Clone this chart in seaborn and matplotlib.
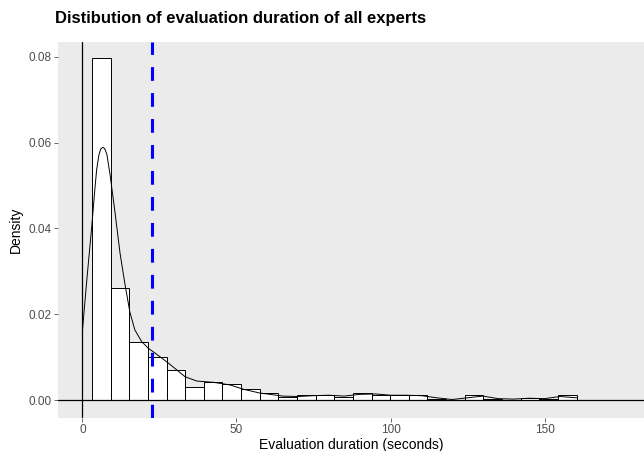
"""Histogram + density of expert evaluation durations (ggplot look)."""

import matplotlib
matplotlib.use("Agg")
import matplotlib.pyplot as plt
import numpy as np
import pandas as pd
import seaborn as sns

# bin layout: 26 bins of ~6.05 s starting at ~3.1 s
BIN_EDGES = np.linspace(3.1, 160.4, 27)
DENSITY = [0.0797, 0.0261, 0.0137, 0.0101, 0.0070, 0.0032, 0.0043, 0.0038,
           0.0027, 0.0017, 0.0009, 0.0013, 0.0013, 0.0007, 0.0017, 0.0012,
           0.0013, 0.0013, 0.0004, 0.0000, 0.0012, 0.0003, 0.0000, 0.0006,
           0.0003, 0.0012]

# density curve
KDE_X = [0.0, 1.4, 3.0, 4.0, 4.6, 5.3, 5.9, 6.6, 7.2, 7.9, 8.9, 10.6, 12.2,
         13.8, 15.4, 17.0, 19.2, 21.4, 23.0, 27.3, 30.6, 33.3, 37.1, 42.5,
         47.9, 52.2, 57.6, 60.9, 65, 70, 75, 80, 85, 90, 95, 100, 105, 110,
         115, 120, 125, 130, 135, 140, 145, 150, 155, 160.5]
KDE_Y = [0.0164, 0.0280, 0.0404, 0.0490, 0.0537, 0.0570, 0.0585, 0.0589,
         0.0586, 0.0573, 0.0528, 0.0435, 0.0342, 0.0270, 0.0205, 0.0164,
         0.0137, 0.0121, 0.0113, 0.0090, 0.0071, 0.0055, 0.0045, 0.0042,
         0.0036, 0.0026, 0.0017, 0.0014, 0.0010, 0.0009, 0.0011, 0.0012,
         0.0010, 0.0014, 0.0015, 0.0012, 0.0012, 0.0011, 0.0006, 0.0002,
         0.0006, 0.0010, 0.0004, 0.0003, 0.0005, 0.0004, 0.0009, 0.0006]

MEAN_DURATION = 22.5
X_TICKS = [0, 50, 100, 150]
Y_TICKS = [0.00, 0.02, 0.04, 0.06, 0.08]

sns.set_theme(style="dark", rc={
    "axes.facecolor": "#EBEBEB",
    "figure.facecolor": "white",
    "axes.edgecolor": "#EBEBEB",
})
plt.rcParams["font.family"] = ["Liberation Sans", "DejaVu Sans"]

fig = plt.figure(figsize=(6.44, 4.51), dpi=100)
ax = fig.add_axes([58 / 644, 1 - 418 / 451, 1 - 58 / 644, (418 - 42) / 451])

hist_df = pd.DataFrame({
    "duration": (BIN_EDGES[:-1] + BIN_EDGES[1:]) / 2,
    "density": DENSITY,
})
sns.histplot(data=hist_df, x="duration", weights="density",
             bins=list(BIN_EDGES), stat="count",
             color="white", edgecolor="black", linewidth=0.7, alpha=1,
             ax=ax)
sns.lineplot(x=KDE_X, y=KDE_Y, color="black", linewidth=0.7, ax=ax)

ax.axvline(0, color="black", linewidth=0.9)
ax.axhline(0, color="black", linewidth=0.9)
ax.axvline(MEAN_DURATION, color="#0000FF", linewidth=2.2,
           linestyle=(0, (4.5, 4)))

ax.set_xlim(-7.95, 182.3)
ax.set_ylim(-0.0041, 0.0834)
ax.set_xticks(X_TICKS)
ax.set_xticklabels([str(t) for t in X_TICKS])
ax.set_yticks(Y_TICKS)
ax.set_yticklabels([f"{t:.2f}" for t in Y_TICKS])
ax.tick_params(axis="both", colors="#4D4D4D", labelcolor="#4D4D4D",
               labelsize=8.5, length=3, width=0.6, pad=1.5,
               bottom=True, left=True)
for s in ax.spines.values():
    s.set_visible(False)
ax.grid(False)

ax.set_xlabel("Evaluation duration (seconds)", fontsize=10, color="black",
              labelpad=1)
ax.set_ylabel("Density", fontsize=10, color="black", labelpad=4)
fig.text(55 / 644, 1 - 18 / 451, "Distibution of evaluation duration of all experts",
         fontsize=12, fontweight="bold", color="black", ha="left", va="center")

fig.savefig("out.png", dpi=100)
